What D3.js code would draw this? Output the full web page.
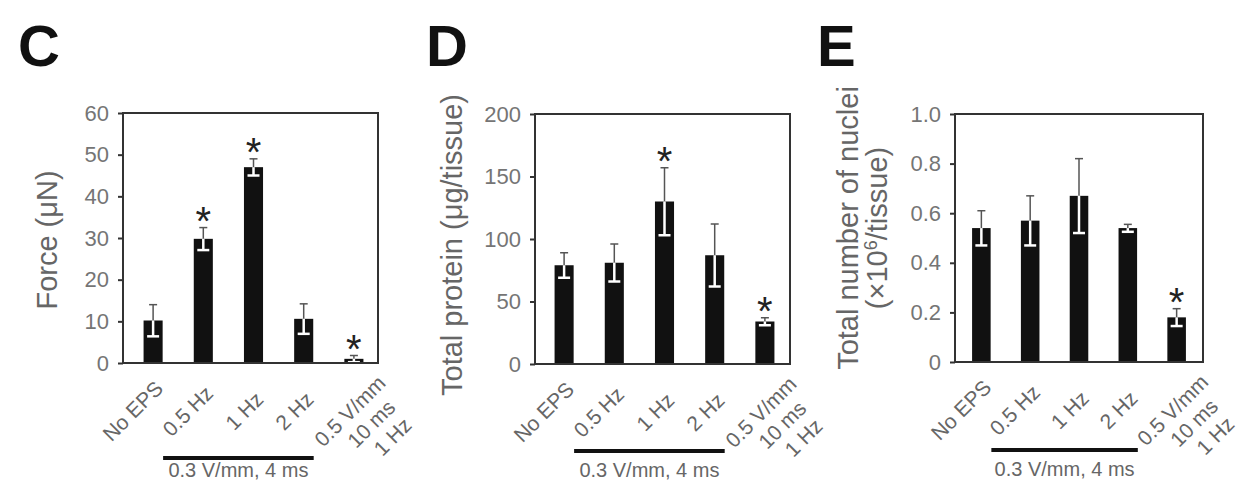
<!DOCTYPE html>
<html lang="en">
<head>
  <meta charset="utf-8" />
  <title>EPS panels C-E</title>
  <script src="https://cdn.jsdelivr.net/npm/d3@7"></script>
  <style>
    body { margin: 0; background: #fff; }
    svg text { font-family: "Liberation Sans", Arial, sans-serif; }
  </style>
</head>
<body>
  <div id="chart"></div>
  <script>
    // conditions (x categories), multi-line for the last one
    const conditions = [["No EPS"], ["0.5 Hz"], ["1 Hz"], ["2 Hz"], ["0.5 V/mm", "10 ms", "1 Hz"]];
    const groupLabel = "0.3 V/mm, 4 ms";

    // C: force
    const forceMean = [10.2, 29.8, 47.0, 10.6, 1.0];
    const forceSD = [3.8, 2.7, 2.0, 3.6, 0.8];
    const forceSig = [false, true, true, false, true];
    const forceTicks = [0, 10, 20, 30, 40, 50, 60];

    // D: total protein
    const proteinMean = [79, 81, 130, 87, 34];
    const proteinSD = [10, 15, 27, 25, 3];
    const proteinSig = [false, false, true, false, true];
    const proteinTicks = [0, 50, 100, 150, 200];

    // E: nuclei
    const nucleiMean = [0.54, 0.57, 0.67, 0.54, 0.18];
    const nucleiSD = [0.07, 0.10, 0.15, 0.015, 0.035];
    const nucleiSig = [false, false, false, false, true];
    const nucleiTicks = [0, 0.2, 0.4, 0.6, 0.8, 1.0];

    const width = 1242, height = 480;
    const svg = d3.select("#chart").append("svg")
        .attr("width", width)
        .attr("height", height)
        .attr("viewBox", [0, 0, width, height]);

    function drawPanel(p) {
      const g = svg.append("g");

      const y = d3.scaleLinear().domain([0, p.max]).range([p.bottom, p.top]);
      const x = d3.scaleBand()
          .domain(d3.range(conditions.length))
          .range([p.left + p.shift, p.right + p.shift])
          .paddingInner(0.62)
          .paddingOuter(0.35);
      const cx = i => x(i) + x.bandwidth() / 2;

      // panel letter
      g.append("text")
          .attr("x", p.letterX).attr("y", 66)
          .attr("font-size", 58).attr("font-weight", "bold")
          .attr("fill", "#111")
          .text(p.letter);

      // y axis
      g.append("g")
          .attr("transform", `translate(${p.left},0)`)
          .call(d3.axisLeft(y).tickValues(p.ticks).tickSize(5).tickPadding(9).tickFormat(p.fmt))
          .call(a => a.select(".domain").remove())
          .call(a => a.selectAll(".tick line").attr("stroke", "#333").attr("stroke-width", 2))
          .call(a => a.selectAll(".tick text").attr("font-size", 22).attr("fill", "#757575")
              .attr("font-family", "Liberation Sans, Arial, sans-serif"));

      // y title
      const t = g.append("text")
          .attr("transform", `translate(${p.titleX},${p.titleY}) rotate(-90)`)
          .attr("text-anchor", "middle")
          .attr("font-size", 29)
          .attr("fill", "#666");
      p.title.forEach((line, k) => {
        const ts = t.append("tspan").attr("x", 0).attr("dy", k === 0 ? 0 : "1.0em");
        if (Array.isArray(line)) {
          line.forEach(part => {
            const s = ts.append("tspan").text(part.t);
            if (part.sup) s.attr("baseline-shift", "super").attr("font-size", 18);
          });
        } else ts.text(line);
      });

      // bars
      g.append("g").selectAll("rect")
          .data(p.mean)
          .join("rect")
          .attr("x", (d, i) => x(i))
          .attr("y", d => y(d))
          .attr("width", x.bandwidth())
          .attr("height", d => y(0) - y(d))
          .attr("fill", "#111");

      // error bars: dark upper half, white lower half
      const err = g.append("g").selectAll("g")
          .data(p.mean.map((m, i) => ({ m, sd: p.sd[i], i })))
          .join("g");
      err.append("line")
          .attr("x1", d => cx(d.i)).attr("x2", d => cx(d.i))
          .attr("y1", d => y(d.m)).attr("y2", d => y(d.m + d.sd))
          .attr("stroke", "#555").attr("stroke-width", 1.5);
      err.append("line")
          .attr("x1", d => cx(d.i) - 4).attr("x2", d => cx(d.i) + 4)
          .attr("y1", d => y(d.m + d.sd)).attr("y2", d => y(d.m + d.sd))
          .attr("stroke", "#555").attr("stroke-width", 1.5);
      err.append("line")
          .attr("x1", d => cx(d.i)).attr("x2", d => cx(d.i))
          .attr("y1", d => y(d.m)).attr("y2", d => y(Math.max(0, d.m - d.sd)))
          .attr("stroke", "#fff").attr("stroke-width", 2.5);
      err.append("line")
          .attr("x1", d => cx(d.i) - 6).attr("x2", d => cx(d.i) + 6)
          .attr("y1", d => y(Math.max(0, d.m - d.sd))).attr("y2", d => y(Math.max(0, d.m - d.sd)))
          .attr("stroke", "#fff").attr("stroke-width", 2.5);

      // significance stars
      g.append("g").selectAll("text")
          .data(p.mean.map((m, i) => ({ top: m + p.sd[i], i, s: p.sig[i] })).filter(d => d.s))
          .join("text")
          .attr("x", d => cx(d.i))
          .attr("y", d => y(d.top) + 7)
          .attr("text-anchor", "middle")
          .attr("font-size", 40)
          .attr("fill", "#222")
          .text("*");

      // frame
      g.append("rect")
          .attr("x", p.left).attr("y", p.top)
          .attr("width", p.right - p.left).attr("height", p.bottom - p.top)
          .attr("fill", "none").attr("stroke", "#333").attr("stroke-width", 2);

      // rotated category labels: first line centred ~48px under the axis
      const lab = g.append("g").selectAll("text")
          .data(conditions)
          .join("text")
          .attr("text-anchor", "middle")
          .attr("font-size", 21)
          .attr("fill", "#666");
      lab.selectAll("tspan")
          .data(d => d.map((s, k) => ({ s, k })))
          .join("tspan")
          .attr("x", d => d.k * 6)
          .attr("dy", d => d.k === 0 ? "0.35em" : "1.15em")
          .text(d => d.s);
      lab.attr("transform", function (d, i) {
        const len = this.querySelector("tspan").getComputedTextLength();
        const mx = d.length > 1 ? cx(i) - 4 : cx(i) + 6 - len * 0.354;
        return `translate(${mx},${p.bottom + 48}) rotate(-45)`;
      });

      // group bar under first four conditions
      const gy = p.bottom + p.groupDy;
      g.append("line")
          .attr("x1", cx(0) + 10).attr("x2", cx(3) + 10)
          .attr("y1", gy).attr("y2", gy)
          .attr("stroke", "#111").attr("stroke-width", 4);
      g.append("text")
          .attr("x", (cx(0) + cx(3)) / 2 + 10)
          .attr("y", Math.min(gy + 26, height - 3))
          .attr("text-anchor", "middle")
          .attr("font-size", 20)
          .attr("fill", "#666")
          .text(groupLabel);
    }

    drawPanel({
      letter: "C", letterX: 18,
      left: 123, right: 378, top: 113, bottom: 363, shift: 3,
      max: 60, ticks: forceTicks, fmt: d3.format("d"),
      mean: forceMean, sd: forceSD, sig: forceSig,
      title: ["Force (\u03bcN)"], titleX: 57, titleY: 240,
      groupDy: 95
    });

    drawPanel({
      letter: "D", letterX: 426,
      left: 535, right: 790, top: 114, bottom: 364, shift: 2,
      max: 200, ticks: proteinTicks, fmt: d3.format("d"),
      mean: proteinMean, sd: proteinSD, sig: proteinSig,
      title: ["Total protein (\u03bcg/tissue)"], titleX: 462, titleY: 245,
      groupDy: 87
    });

    drawPanel({
      letter: "E", letterX: 817,
      left: 955, right: 1203, top: 114, bottom: 362, shift: 0,
      max: 1.0, ticks: nucleiTicks, fmt: d => d === 0 ? "0" : d3.format(".1f")(d),
      mean: nucleiMean, sd: nucleiSD, sig: nucleiSig,
      title: ["Total number of nuclei", [{ t: "(\u00d710" }, { t: "6", sup: true }, { t: "/tissue)" }]],
      titleX: 858, titleY: 228,
      groupDy: 88
    });
  </script>
</body>
</html>
